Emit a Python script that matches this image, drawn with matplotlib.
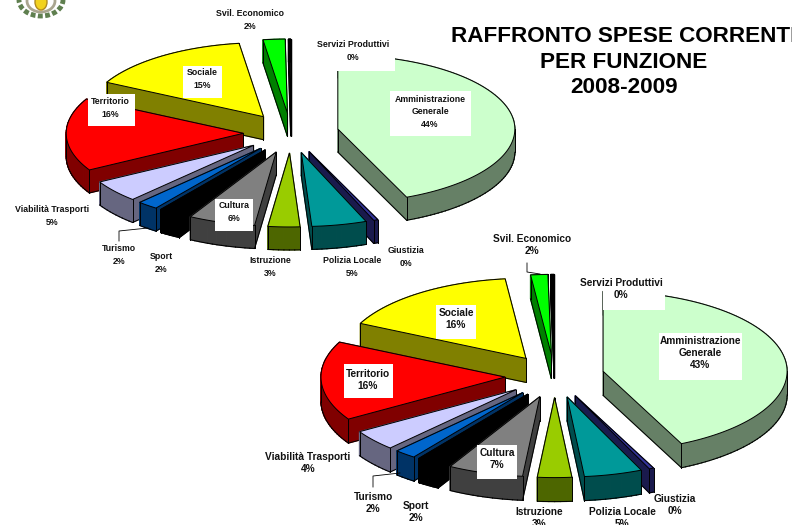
import numpy as np
import matplotlib
matplotlib.use('Agg')
import matplotlib.pyplot as plt
from matplotlib.patches import Polygon, Rectangle, Ellipse

plt.rcParams['font.family'] = ['Liberation Sans', 'DejaVu Sans']

""" Data, clockwise from 12 o'clock """
names = ['Amministrazione\nGenerale', 'Giustizia', 'Polizia Locale', 'Istruzione', 'Cultura', 'Sport',
         'Turismo', 'Viabilità Trasporti', 'Territorio', 'Sociale', 'Svil. Economico', 'Servizi Produttivi']
values_top = [43.6, 0.4, 5.0, 2.9, 6.1, 2.0, 1.9, 4.8, 15.9, 15.1, 2.0, 0.2]
values_low = [43.0, 0.4, 5.1, 3.0, 6.6, 2.0, 1.9, 4.2, 16.0, 16.0, 1.5, 0.3]
shown_top = [44, 0, 5, 3, 6, 2, 2, 5, 16, 15, 2, 0]
shown_low = [43, 0, 5, 3, 7, 2, 2, 4, 16, 16, 2, 0]
colors = ['#CCFFCC', '#333399', '#009999', '#99CC00', '#808080', '#000000',
          '#0066CC', '#CCCCFF', '#FF0000', '#FFFF00', '#00FF00', '#000000']
sides = ['#668066', '#1A1A4D', '#004D4D', '#4D6600', '#404040', '#000000',
         '#003366', '#666680', '#800000', '#808000', '#008000', '#000000']

""" Label layout: text centre, and white box behind it if there is one """
pos_top = [(430, 112), (406, 257), (352, 267), (270, 267), (234, 212), (161, 263),
           (119, 255), (52, 216), (110, 108), (202, 79), (250, 20), (353, 51)]
pos_low = [(700, 353), (675, 505), (622, 518), (539, 518), (497, 459), (416, 512),
           (373, 503), (308, 463), (368, 380), (456, 319), (532, 245), (621, 289)]
box_top = {0: (390, 91, 471, 136), 4: (215, 199, 253, 231), 8: (88, 94, 135, 126),
           9: (183, 66, 222, 98), 11: (337, 38, 395, 71)}
box_low = {0: (659, 333, 742, 380), 4: (477, 445, 517, 479), 8: (344, 364, 393, 398),
           9: (436, 305, 476, 339), 11: (603, 278, 665, 310)}

fig = plt.figure(figsize=(7.92, 5.25), dpi=100)
ax = fig.add_axes([0, 0, 1, 1])
ax.set_xlim(0, 792)
ax.set_ylim(525, 0)
ax.axis('off')

layer = 1


def draw_pie(values, cx, cy, rx, ry, depth, explode=0.27):
    """ Exploded pie seen from above, painted from the back to the front """
    global layer
    vals = np.array(values, dtype=float)
    edges = np.concatenate(([0], np.cumsum(vals))) / vals.sum() * 2 * np.pi
    mids = (edges[:-1] + edges[1:]) / 2
    for i in np.argsort(-np.cos(mids)):
        x0 = cx + explode * rx * np.sin(mids[i])
        y0 = cy - explode * ry * np.cos(mids[i])
        t = np.linspace(edges[i], edges[i + 1], max(int((edges[i + 1] - edges[i]) * 40), 2))
        px = np.concatenate(([x0], x0 + rx * np.sin(t)))
        py = np.concatenate(([y0], y0 - ry * np.cos(t)))
        n = len(px)
        facing = []
        for j in range(n):
            k = (j + 1) % n
            ax.add_patch(Polygon([(px[j], py[j]), (px[k], py[k]), (px[k], py[k] + depth), (px[j], py[j] + depth)],
                                 fc=sides[i], ec=sides[i], lw=0.9, zorder=layer))
            facing.append(px[k] < px[j])
        layer += 1
        for j in range(n):
            k = (j + 1) % n
            if facing[j]:
                ax.plot([px[j], px[k]], [py[j] + depth, py[k] + depth], color='black', lw=0.7, zorder=layer)
            if j in (0, 1, n - 1) or facing[j] != facing[j - 1]:
                ax.plot([px[j], px[j]], [py[j], py[j] + depth], color='black', lw=0.7, zorder=layer)
        layer += 1
        ax.add_patch(Polygon(np.column_stack((px, py)), fc=colors[i], ec='black', lw=0.7, zorder=layer))
        layer += 1


def draw_labels(shown, pos, boxes, size, gap):
    for i in range(len(names)):
        if i in boxes:
            b = boxes[i]
            ax.add_patch(Rectangle((b[0], b[1]), b[2] - b[0], b[3] - b[1], fc='white', ec='none', zorder=500))
        ax.text(pos[i][0], pos[i][1], '{}\n{}%'.format(names[i], shown[i]), ha='center', va='center',
                fontsize=size, fontweight='bold', linespacing=gap, color='#111111', zorder=501)


draw_pie(values_top, 291, 133, 177, 74, 23)
draw_pie(values_low, 554.6, 376, 184, 80, 24)
draw_labels(shown_top, pos_top, box_top, 6.3, 1.45)
draw_labels(shown_low, pos_low, box_low, 7.3, 1.3)

""" Leader lines """
ax.plot([119, 119, 148], [241, 231, 228], color='black', lw=0.6, zorder=400)
ax.plot([373, 373, 400], [487, 476, 473], color='black', lw=0.6, zorder=400)
ax.plot([527, 527, 540], [263, 272, 274], color='black', lw=0.6, zorder=400)

""" Title """
ax.text(624, 62, 'RAFFRONTO SPESE CORRENTI\nPER FUNZIONE\n2008-2009', ha='center', va='center',
        fontsize=16.2, fontweight='bold', linespacing=1.3, clip_on=True, zorder=502)

""" Crest, cut by the top of the page """
ax.add_patch(Ellipse((41, 0), 44, 32, fc='none', ec='#5F7F4F', lw=3.5, ls=(0, (1, 0.5)), zorder=400))
ax.add_patch(Ellipse((41, 1), 28, 22, fc='none', ec='#A9A58F', lw=2, zorder=400))
ax.add_patch(Ellipse((41, 2), 12, 16, fc='#F2D21E', ec='#B08A20', lw=1, zorder=401))

fig.savefig('out.png', dpi=100)
